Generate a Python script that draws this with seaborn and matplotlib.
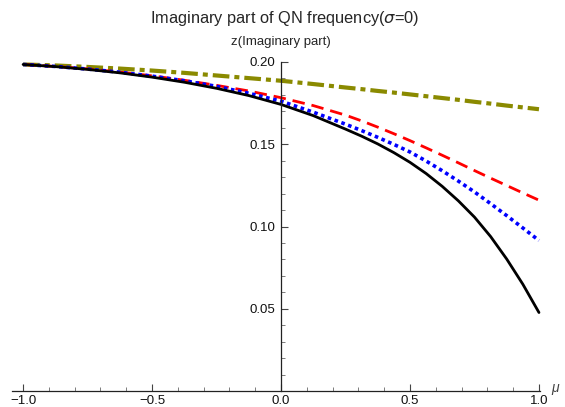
import numpy as np
import pandas as pd
import matplotlib
matplotlib.use("Agg")
import matplotlib.pyplot as plt
from matplotlib.ticker import MultipleLocator, FixedLocator
import seaborn as sns

# data (finer step where the curves bend)
mu = [-1.0, -0.875, -0.75, -0.625, -0.5, -0.375, -0.25, -0.125, 0.0, 0.125,
      0.25, 0.3125, 0.375, 0.4375, 0.5, 0.5625, 0.625, 0.6875, 0.75,
      0.8125, 0.875, 0.9375, 1.0]
z_black = [0.1985, 0.1972, 0.1955, 0.1934, 0.1908, 0.1877, 0.1840, 0.1796, 0.1742, 0.1674,
           0.1592, 0.1549, 0.1502, 0.1449, 0.1390, 0.1322, 0.1244, 0.1156, 0.1057,
           0.0939, 0.0802, 0.0649, 0.0477]
z_blue = [0.1985, 0.1973, 0.1957, 0.1938, 0.1914, 0.1886, 0.1852, 0.1810, 0.1762, 0.1695,
          0.1622, 0.1583, 0.1542, 0.1499, 0.1453, 0.1398, 0.1339, 0.1276, 0.1210,
          0.1139, 0.1066, 0.0991, 0.0915]
z_red = [0.1985, 0.1973, 0.1958, 0.1939, 0.1916, 0.1889, 0.1858, 0.1824, 0.1783, 0.1735,
         0.1677, 0.1642, 0.1604, 0.1564, 0.1522, 0.1478, 0.1433, 0.1387, 0.1340,
         0.1294, 0.1249, 0.1204, 0.1160]
z_olive = [0.1985, 0.1979, 0.1970, 0.1960, 0.1948, 0.1934, 0.1918, 0.1902, 0.1886, 0.1866,
           0.1845, 0.1835, 0.1824, 0.1814, 0.1803, 0.1792, 0.1781, 0.1770, 0.1758,
           0.1747, 0.1735, 0.1724, 0.1713]

x_major = [-1.0, -0.5, 0.0, 0.5, 1.0]
y_major = [0.05, 0.10, 0.15, 0.20]

sns.set_style("white")
plt.rcParams["font.family"] = ["Liberation Sans", "DejaVu Sans"]

df = pd.DataFrame({
    "mu": mu * 4,
    "z": z_olive + z_red + z_blue + z_black,
    "curve": ["olive"] * len(mu) + ["red"] * len(mu) + ["blue"] * len(mu) + ["black"] * len(mu),
})

fig = plt.figure(figsize=(5.65, 4.07), dpi=100)
ax = fig.add_axes([12 / 565, (407 - 391) / 407, (540 - 12) / 565, (391 - 62) / 407])

styles = {
    "olive": dict(color="#8a8a00", lw=3.0, dashes=(4.0, 1.2, 1.2, 1.2)),
    "red": dict(color="#ff0000", lw=2.0, dashes=(4.5, 2.5)),
    "blue": dict(color="#0000ff", lw=2.6, dashes=(1.0, 1.0)),
    "black": dict(color="black", lw=2.0, dashes=None),
}
for name, st in styles.items():
    sub = df[df["curve"] == name]
    sns.lineplot(data=sub, x="mu", y="z", ax=ax, color=st["color"],
                 lw=st["lw"], legend=False, clip_on=False)
    l = ax.lines[-1]
    l.set_solid_joinstyle("round")
    l.set_dash_joinstyle("round")
    if st["dashes"] is not None:
        l.set_dashes(st["dashes"])

ax.set_xlim(-1.043, 1.004)
ax.set_ylim(0, 0.2)
ax.set_xlabel("")
ax.set_ylabel("")

for s in ["top", "right"]:
    ax.spines[s].set_visible(False)
ax.spines["left"].set_position(("data", 0))
ax.spines["bottom"].set_position(("data", 0))
for s in ["left", "bottom"]:
    ax.spines[s].set_color("#222222")
    ax.spines[s].set_linewidth(0.9)

ax.xaxis.set_major_locator(FixedLocator(x_major))
ax.xaxis.set_minor_locator(MultipleLocator(0.1))
ax.yaxis.set_major_locator(FixedLocator(y_major))
ax.yaxis.set_minor_locator(MultipleLocator(0.01))
ax.xaxis.set_major_formatter(plt.FuncFormatter(lambda v, p: f"{v:.1f}".replace("-", "\u2212")))
ax.yaxis.set_major_formatter(plt.FuncFormatter(lambda v, p: f"{v:.2f}"))
ax.tick_params(which="both", bottom=True, left=True, top=False, right=False)
ax.tick_params(which="major", direction="in", length=5, width=0.8, color="#444444",
               labelsize=9.5, labelcolor="#111111")
ax.tick_params(which="minor", direction="in", length=3, width=0.6, color="#666666")
ax.tick_params(axis="x", pad=3)
ax.tick_params(axis="y", pad=4)

ax.text(0, 0.2 + 20 / 1640, "z(Imaginary part)", ha="center", va="center", fontsize=9.5)
ax.text(1.004 + 15 / 258, 0.002, "\u03bc", ha="center", va="center", fontsize=10,
        style="italic", color="#444444")
fig.text(0.504, 1 - 18 / 407, "Imaginary part of QN frequency($\\sigma$=0)",
         ha="center", va="center", fontsize=11.8)

fig.savefig("out.png", dpi=100, facecolor="white")
